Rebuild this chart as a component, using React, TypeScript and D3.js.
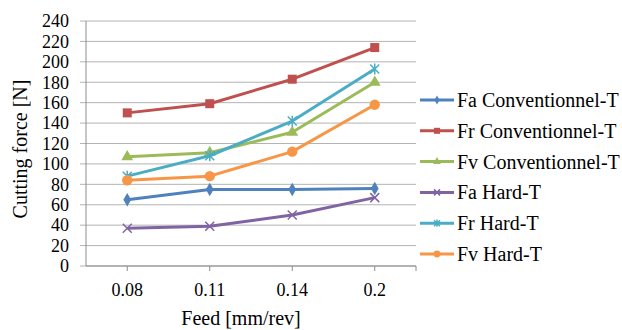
import * as d3 from "d3";

const feeds = ["0.08", "0.11", "0.14", "0.2"];
const yTicks = [0, 20, 40, 60, 80, 100, 120, 140, 160, 180, 200, 220, 240];

const faConv = [65, 75, 75, 76];
const frConv = [150, 159, 183, 214];
const fvConv = [107, 111, 131, 180];
const faHard = [37, 39, 50, 67];
const frHard = [88, 108, 142, 193];
const fvHard = [84, 88, 112, 158];

const series = [
  { name: "Fa Conventionnel-T", values: faConv, color: "#4F81BD", marker: "diamond" },
  { name: "Fr Conventionnel-T", values: frConv, color: "#C0504D", marker: "square" },
  { name: "Fv Conventionnel-T", values: fvConv, color: "#9BBB59", marker: "triangle" },
  { name: "Fa Hard-T", values: faHard, color: "#8064A2", marker: "x" },
  { name: "Fr Hard-T", values: frHard, color: "#4BACC6", marker: "star" },
  { name: "Fv Hard-T", values: fvHard, color: "#F79646", marker: "circle" },
];

const width = 622;
const height = 330;
const plotLeft = 86;
const plotRight = 416;
const plotTop = 21;
const plotBottom = 266;
const font = '"Liberation Serif", "DejaVu Serif", serif';

// excel-ish marker; s = half size
function Marker({ type, color, s }: { type: string; color: string; s: number }) {
  if (type === "square") return <rect x={-s} y={-s} width={2 * s} height={2 * s} fill={color} />;
  if (type === "circle") return <circle r={s * 1.15} fill={color} />;
  if (type === "diamond")
    return <path d={d3.symbol(d3.symbolDiamond, s * s * 2.6)()!} fill={color} />;
  if (type === "triangle")
    return <path d={d3.symbol(d3.symbolTriangle, s * s * 3)()!} fill={color} />;
  if (type === "x")
    return (
      <path d={`M${-s},${-s}L${s},${s}M${-s},${s}L${s},${-s}`} stroke={color} strokeWidth={1.5} fill="none" />
    );
  // star: x plus vertical bar
  return (
    <path
      d={`M${-s},${-s}L${s},${s}M${-s},${s}L${s},${-s}M0,${-s * 1.2}L0,${s * 1.2}`}
      stroke={color}
      strokeWidth={1.5}
      fill="none"
    />
  );
}

export default function App() {
  const x = d3.scaleBand().domain(feeds).range([plotLeft, plotRight]);
  const y = d3.scaleLinear().domain([0, 240]).range([plotBottom, plotTop]);
  const cx = (f: string) => (x(f) ?? 0) + x.bandwidth() / 2;

  const line = d3
    .line<number>()
    .x((_, i) => cx(feeds[i]))
    .y((d) => y(d));

  return (
    <svg
      width={width}
      height={height}
      style={{ position: "absolute", left: 0, top: 0, background: "#fff", fontFamily: font }}
    >
      {/* gridlines */}
      {yTicks.map((t) => (
        <line key={t} x1={plotLeft - 6} x2={plotRight} y1={y(t)} y2={y(t)} stroke="#B4B4B4" strokeWidth={1} />
      ))}
      <line x1={plotLeft} x2={plotLeft} y1={plotTop} y2={plotBottom} stroke="#8C8C8C" />
      <line x1={plotLeft} x2={plotRight} y1={plotBottom} y2={plotBottom} stroke="#8C8C8C" />
      {[...feeds.map(cx), plotRight].map((v, i) => (
        <line key={i} x1={v} x2={v} y1={plotBottom} y2={plotBottom + 5} stroke="#8C8C8C" />
      ))}

      {yTicks.map((t) => (
        <text key={t} x={69} y={y(t)} dy="0.35em" textAnchor="end" fontSize={18} fill="#000">
          {t}
        </text>
      ))}
      {feeds.map((f) => (
        <text key={f} x={cx(f)} y={296} textAnchor="middle" fontSize={18} fill="#000">
          {f}
        </text>
      ))}

      <text x={241} y={325} textAnchor="middle" fontSize={20}>
        Feed [mm/rev]
      </text>
      <text transform={`translate(27,149) rotate(-90)`} textAnchor="middle" fontSize={20}>
        Cutting force [N]
      </text>

      {series.map((s) => (
        <g key={s.name}>
          <path d={line(s.values)!} fill="none" stroke={s.color} strokeWidth={3} strokeLinejoin="round" />
          {s.values.map((v, i) => (
            <g key={i} transform={`translate(${cx(feeds[i])},${y(v)})`}>
              <Marker type={s.marker} color={s.color} s={4.5} />
            </g>
          ))}
        </g>
      ))}

      {/* legend */}
      {series.map((s, i) => {
        const ly = 100 + i * 30.8;
        return (
          <g key={s.name} transform={`translate(420,${ly})`}>
            <line x1={0} x2={34} y1={0} y2={0} stroke={s.color} strokeWidth={3} />
            <g transform="translate(17,0)">
              <Marker type={s.marker} color={s.color} s={3} />
            </g>
            <text x={37} y={0} dy="0.35em" fontSize={20} fill="#000">
              {s.name}
            </text>
          </g>
        );
      })}
    </svg>
  );
}
